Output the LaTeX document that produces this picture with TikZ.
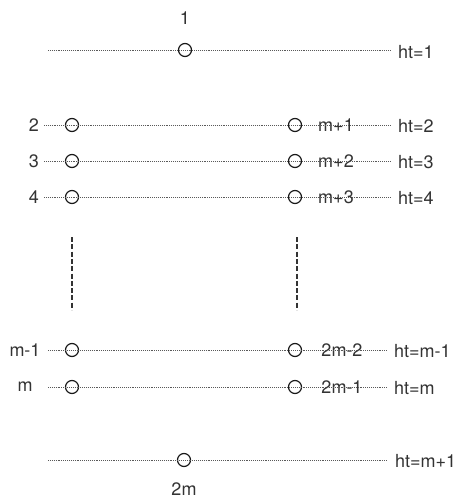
\documentclass[tikz,border=0pt]{standalone}
\usepackage{fontspec}
\setmainfont{TeX Gyre Heros}
\usetikzlibrary{positioning}
\tikzstyle{vert}=[circle, draw=black!90, line width=1.2pt, minimum size=13pt, inner sep=0pt]
\tikzstyle{lab}=[font=\fontsize{18}{22}\selectfont, text=black!80, inner sep=2pt]
\tikzstyle{htlab}=[lab, anchor=west, inner xsep=7pt]
\tikzstyle{hline}=[draw=black!65, line width=0.8pt, dash pattern=on 0.8pt off 1.1pt]
\tikzstyle{vline}=[draw=black!80, line width=1.4pt, dash pattern=on 5pt off 2.3pt]

\begin{document}
\begin{tikzpicture}[x=1pt,y=-1pt]
          \useasboundingbox (0,0) rectangle (464,499);
          % top vertex
          \node at (185,18) [lab] (n1) {1};
          \node at (185,50) [vert] (c1) {};
          \coordinate (s1) at (48,50);
          \node at (391,52) [htlab] (ht1) {ht=1};
          \draw[hline] (s1) -- (ht1.west |- s1);
          % rows 2..4
          \foreach \r/\y/\k in {2/125/1, 3/161/2, 4/197/3}{
            \node at (34,\y) [lab] (n\r) {\r};
            \node at (72,\y) [vert] (l\r) {};
            \node at (295,\y) [vert] (r\r) {};
            \node at (336,\y) [lab] (m\r) {m+\k};
            \coordinate (s\r) at (44,\y);
            \node at (391,\y+1) [htlab] (ht\r) {ht=\r};
            \draw[hline] (s\r) -- (ht\r.west |- s\r);
          }
          % gaps
          \coordinate (g1) at (72,237);
          \coordinate (g2) at (72,310);
          \coordinate (g3) at (297,237);
          \coordinate (g4) at (297,310);
          \draw[vline] (g1) -- (g2);
          \draw[vline] (g3) -- (g4);
          % rows m-1 and m
          \node at (25,350) [lab] (nm1) {m-1};
          \node at (72,350) [vert] (lm1) {};
          \node at (295,350) [vert] (rm1) {};
          \node at (342,350) [lab] (mm1) {2m-2};
          \coordinate (sm1) at (48,350);
          \node at (387,351) [htlab] (htm1) {ht=m-1};
          \draw[hline] (sm1) -- (htm1.west |- sm1);
          \node at (25,387) [lab] (nm) {m};
          \node at (72,387) [vert] (lm) {};
          \node at (295,387) [vert] (rm) {};
          \node at (342,387) [lab] (mm) {2m-1};
          \coordinate (sm) at (48,387);
          \node at (387,388) [htlab] (htm) {ht=m};
          \draw[hline] (sm) -- (htm.west |- sm);
          % bottom vertex
          \node at (184,460) [vert] (c2) {};
          \node at (184,489) [lab] (n2m) {2m};
          \coordinate (s7) at (48,460);
          \node at (388,461) [htlab] (htb) {ht=m+1};
          \draw[hline] (s7) -- (htb.west |- s7);
\end{tikzpicture}
\end{document}
